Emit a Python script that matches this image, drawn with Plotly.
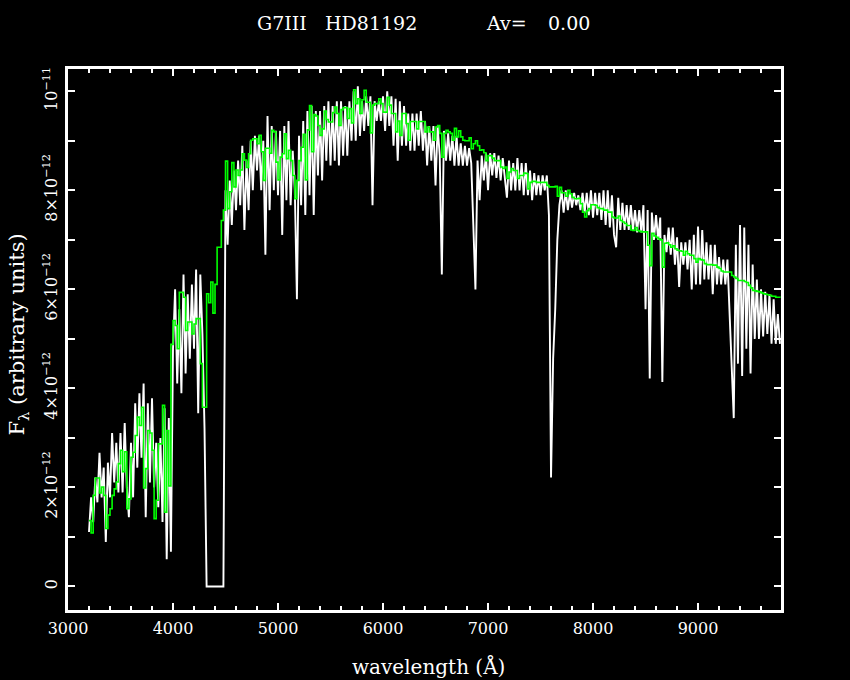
import numpy as np
import plotly.graph_objects as go

# ---------------- data (flux in units of 1e-12) ----------------
wl_start = 3200      # first wavelength bin (Angstrom)
wl_step = 20         # bin width (Angstrom)
FLUX_UNIT = 1e-12

# observed spectrum (white)
flux_obs = [
    1.1, 1.8, 1.3, 2.2, 1.7, 2.7, 1.8, 2.4, 0.9, 2.5,        # 3200-3380
    1.8, 3.1, 2.1, 2.9, 1.9, 3.1, 1.9, 3.3, 2.0, 1.4,        # 3400
    2.9, 1.8, 3.7, 2.4, 3.9, 2.6, 4.1, 1.4, 3.7, 2.1,        # 3600
    3.8, 2.0, 2.9, 1.6, 3.0, 1.3, 3.6, 0.55, 3.4, 0.7,       # 3800
    4.8, 6.0, 4.1, 5.6, 3.9, 6.3, 4.3, 5.9, 4.6, 6.1,        # 4000
    4.8, 6.4, 3.5, 6.3, 5.1, 3.2, 0.0, 0.0, 0.0, 0.0,        # 4200
    0.0, 0.0, 0.0, 0.0, 0.0, 8.0, 6.9, 8.2, 7.3, 8.4,        # 4400
    7.6, 8.6, 7.7, 8.9, 7.2, 8.6, 7.6, 9.0, 8.0, 9.1,        # 4600
    8.4, 9.1, 8.0, 9.0, 6.7, 9.5, 7.6, 9.3, 8.0, 9.2,        # 4800
    7.9, 9.2, 7.1, 9.3, 7.8, 9.4, 7.7, 8.8, 8.0, 5.8,        # 5000
    9.1, 7.7, 9.4, 7.5, 9.6, 7.9, 9.7, 7.5, 9.6, 8.3,        # 5200
    9.6, 8.2, 9.7, 8.6, 9.8, 8.5, 9.7, 8.6, 9.8, 8.5,        # 5400
    9.8, 8.7, 9.7, 8.7, 9.8, 9.0, 10.0, 9.0, 10.1, 9.1,      # 5600
    9.8, 9.2, 9.9, 9.3, 9.9, 7.7, 9.8, 9.4, 9.8, 9.4,        # 5800
    9.9, 9.2, 10.0, 9.3, 9.9, 8.9, 9.85, 8.6, 9.8, 8.9,      # 6000
    9.7, 8.9, 9.55, 8.8, 9.55, 8.8, 9.55, 8.9, 9.6, 8.8,     # 6200
    9.4, 8.5, 9.3, 8.6, 9.3, 8.1, 9.3, 8.7, 6.3, 9.2,        # 6400
    8.6, 9.15, 8.6, 9.1, 8.5, 9.1, 8.5, 8.95, 8.5, 8.9,      # 6600
    8.5, 8.85, 8.55, 7.3, 6.0, 8.6, 7.8, 8.7, 8.2, 8.75,     # 6800
    8.0, 8.75, 8.3, 8.75, 8.25, 8.7, 8.2, 8.65, 8.2, 7.85,   # 7000
    8.6, 8.0, 8.55, 8.0, 8.65, 8.0, 8.55, 7.9, 8.55, 7.9,    # 7200
    8.4, 7.8, 8.35, 7.9, 8.3, 7.9, 8.3, 8.0, 8.3, 7.5,       # 7400
    2.2, 4.6, 5.6, 7.0, 7.7, 8.0, 7.55, 8.0, 7.6, 7.95,      # 7600
    7.65, 7.95, 7.7, 7.9, 7.6, 7.95, 7.55, 7.95, 7.5, 8.0,   # 7800
    7.45, 7.95, 7.5, 7.95, 7.4, 8.0, 7.3, 8.0, 7.25, 7.9,    # 8000
    7.1, 6.85, 7.85, 7.2, 7.75, 7.2, 7.7, 7.2, 7.7, 7.2,     # 8200
    7.6, 7.15, 7.6, 7.15, 7.7, 5.6, 7.6, 4.2, 7.55, 7.0,     # 8400
    7.5, 7.0, 7.45, 4.13, 7.1, 6.75, 7.25, 6.7, 7.25, 6.5,   # 8600
    7.05, 6.05, 6.95, 6.5, 6.95, 6.4, 7.0, 6.0, 7.1, 6.1,    # 8800
    7.27, 6.1, 7.2, 6.2, 6.95, 6.2, 6.9, 5.9, 6.9, 6.1,      # 9000
    6.65, 6.1, 6.6, 6.1, 6.6, 5.6, 4.4, 3.4, 6.9, 4.5,       # 9200
    7.3, 4.25, 7.25, 4.8, 6.9, 4.3, 6.5, 5.0, 6.2, 5.0,      # 9400
    6.0, 5.05, 5.95, 5.1, 5.9, 4.9, 5.8, 4.9, 5.5, 4.9,      # 9600-9780
]

# model spectrum (green)
flux_model = [
    1.33, 1.08, 1.84, 2.19, 2.19, 1.89, 2.01, 1.84, 1.17, 1.44,   # 3200
    1.57, 1.84, 1.97, 2.11, 2.48, 2.75, 2.32, 2.72, 1.57, 1.77,   # 3400
    2.61, 2.71, 3.05, 3.42, 3.25, 3.62, 1.99, 2.38, 3.15, 3.10,   # 3600
    2.75, 1.37, 1.74, 2.88, 2.88, 3.66, 1.50, 3.15, 2.03, 4.89,   # 3800
    5.37, 5.27, 4.80, 5.94, 5.94, 5.84, 5.17, 5.34, 5.34, 5.10,   # 4000
    5.30, 5.41, 5.41, 4.50, 3.62, 3.62, 5.91, 5.73, 6.15, 5.52,   # 4200
    6.10, 6.85, 6.85, 7.39, 7.60, 8.59, 7.63, 7.97, 8.56, 8.07,   # 4400
    8.41, 8.30, 8.41, 8.74, 8.61, 8.46, 8.74, 9.01, 9.04, 9.04,   # 4600
    8.94, 9.11, 8.78, 8.20, 8.85, 8.85, 8.75, 9.21, 9.18, 8.57,   # 4800
    8.21, 8.67, 8.74, 9.14, 8.64, 8.81, 8.60, 8.30, 7.83, 8.20,   # 5000
    8.60, 8.87, 9.13, 8.21, 9.22, 9.71, 8.78, 9.53, 9.50, 9.31,   # 5200
    9.11, 9.24, 9.60, 9.43, 9.38, 9.38, 9.57, 9.68, 9.55, 9.31,   # 5400
    9.63, 9.67, 9.67, 9.45, 9.65, 9.36, 10.03, 9.75, 9.85, 9.55,  # 5600
    9.83, 10.02, 9.78, 9.78, 9.16, 9.72, 9.75, 9.75, 9.85, 9.75,  # 5800
    9.58, 9.58, 9.88, 9.72, 9.55, 9.55, 9.18, 9.40, 9.11, 9.55,   # 6000
    9.55, 9.35, 9.01, 9.39, 9.39, 9.39, 9.24, 9.39, 9.39, 9.39,   # 6200
    9.18, 9.28, 9.18, 9.18, 9.01, 9.28, 9.31, 9.15, 8.67, 9.15,   # 6400
    9.21, 9.18, 9.15, 9.01, 9.25, 9.08, 9.20, 9.08, 9.01, 9.00,   # 6600
    9.00, 9.06, 8.84, 8.94, 9.00, 8.90, 8.81, 8.82, 8.76, 8.60,   # 6800
    8.70, 8.70, 8.65, 8.60, 8.60, 8.60, 8.47, 8.44, 8.47, 8.24,   # 7000
    8.37, 8.44, 8.40, 8.40, 8.24, 8.30, 8.30, 8.35, 8.34, 8.03,   # 7200
    8.16, 8.18, 8.18, 8.16, 8.16, 8.16, 8.16, 8.16, 8.10, 8.07,   # 7400
    8.07, 8.07, 8.08, 7.88, 8.06, 7.95, 7.95, 7.88, 8.00, 7.93,   # 7600
    7.86, 7.83, 7.83, 7.84, 7.73, 7.56, 7.46, 7.59, 7.63, 7.71,   # 7800
    7.71, 7.70, 7.65, 7.63, 7.63, 7.60, 7.60, 7.56, 7.56, 7.46,   # 8000
    7.44, 7.44, 7.48, 7.39, 7.36, 7.33, 7.29, 7.29, 7.20, 7.19,   # 8200
    7.25, 7.19, 7.17, 7.16, 7.16, 7.16, 6.89, 6.48, 7.13, 7.08,   # 8400
    7.05, 7.02, 7.00, 6.45, 6.93, 6.94, 6.90, 6.85, 6.88, 6.82,   # 8600
    6.79, 6.78, 6.77, 6.69, 6.77, 6.72, 6.69, 6.69, 6.62, 6.55,   # 8800
    6.62, 6.60, 6.59, 6.52, 6.50, 6.50, 6.50, 6.49, 6.49, 6.45,   # 9000
    6.42, 6.37, 6.35, 6.35, 6.35, 6.35, 6.28, 6.25, 6.22, 6.18,   # 9200
    6.18, 6.18, 6.16, 6.14, 6.08, 6.03, 5.98, 5.97, 5.96, 5.95,   # 9400
    5.93, 5.91, 5.90, 5.89, 5.88, 5.86, 5.86, 5.84, 5.84, 5.83,   # 9600
]

x_tick_vals = [3000, 4000, 5000, 6000, 7000, 8000, 9000]
y_tick_vals = [0, 2, 4, 6, 8, 10]
y_tick_text = ["0", "2×10<sup>−12</sup>", "4×10<sup>−12</sup>",
               "6×10<sup>−12</sup>", "8×10<sup>−12</sup>", "10<sup>−11</sup>"]

wavelength = wl_start + wl_step * np.arange(len(flux_obs))
obs = np.array(flux_obs) * FLUX_UNIT
model = np.array(flux_model) * FLUX_UNIT

FONT = "DejaVu Serif"

fig = go.Figure()
fig.add_trace(go.Scatter(x=wavelength, y=obs, mode="lines",
                         line=dict(color="white", width=1.9, shape="linear"),
                         showlegend=False))
fig.add_trace(go.Scatter(x=wavelength, y=model, mode="lines",
                         line=dict(color="#00ff00", width=1.6, shape="hv"),
                         showlegend=False))

axis_common = dict(showline=True, linecolor="white", linewidth=3, mirror="allticks",
                   ticks="inside", tickcolor="white", tickwidth=2, ticklen=7,
                   showgrid=False, zeroline=False,
                   tickfont=dict(family=FONT, size=16, color="white"))

fig.update_xaxes(range=[3000, 9790], tickmode="array", tickvals=x_tick_vals,
                 ticklabelstandoff=2,
                 minor=dict(ticks="inside", dtick=200, tick0=3000, ticklen=4,
                            tickwidth=2, tickcolor="white", showgrid=False),
                 **axis_common)
fig.update_yaxes(range=[-0.475e-12, 10.45e-12], tickmode="array",
                 tickvals=[v * FLUX_UNIT for v in y_tick_vals], ticktext=y_tick_text,
                 tickangle=-90, ticklabelstandoff=2,
                 minor=dict(ticks="inside", dtick=FLUX_UNIT, tick0=0, ticklen=7,
                            tickwidth=2, tickcolor="white", showgrid=False),
                 **axis_common)

title_font = dict(family=FONT, size=19, color="white")
for txt, px in [("G7III", 282), ("HD81192", 371), ("Av=", 506), ("0.00", 569)]:
    fig.add_annotation(text=txt, xref="paper", yref="paper",
                       x=(px - 68) / 713, y=1 + (68 - 22) / 542,
                       xanchor="center", yanchor="middle", showarrow=False,
                       font=title_font)

fig.add_annotation(text="wavelength (Å)", xref="paper", yref="paper",
                   x=(428 - 68) / 713, y=-(667 - 610) / 542,
                   xanchor="center", yanchor="middle", showarrow=False,
                   font=dict(family=FONT, size=20, color="white"))
fig.add_annotation(text="F<sub>λ</sub> (arbitrary units)", xref="paper", yref="paper",
                   x=(18 - 68) / 713, y=(610 - 334) / 542, textangle=-90,
                   xanchor="center", yanchor="middle", showarrow=False,
                   font=dict(family=FONT, size=21, color="white"))

fig.update_layout(width=850, height=680,
                  margin=dict(l=68, r=69, t=69, b=70),
                  paper_bgcolor="black", plot_bgcolor="black",
                  showlegend=False)

fig.write_html("out.html",
               config={"displayModeBar": False},
               post_script="document.body.style.margin='0px';"
                           "document.body.style.background='black';")
